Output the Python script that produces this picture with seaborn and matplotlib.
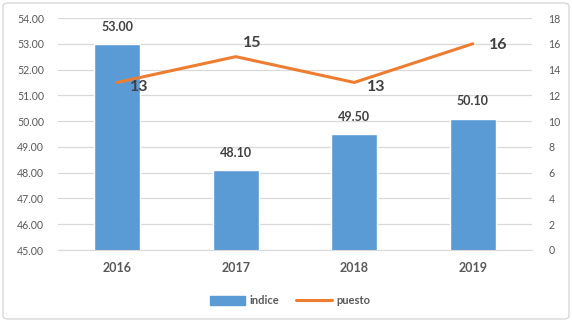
import numpy as np
import pandas as pd
import matplotlib
matplotlib.use('Agg')
import matplotlib.pyplot as plt
import seaborn as sns
from matplotlib.patches import FancyBboxPatch
from matplotlib.lines import Line2D
from matplotlib.patches import Patch

sns.set_style('white')
plt.rcParams['font.family'] = ['Lato', 'DejaVu Sans']

years = ['2016', '2017', '2018', '2019']
indice = [53.00, 48.10, 49.50, 50.10]
puesto = [13, 15, 13, 16]

BLUE = '#5B9BD5'
ORANGE = '#ED7D31'
TXT = '#595959'
LAB = '#404040'

df = pd.DataFrame({'year': years, 'indice': indice, 'puesto': puesto})

fig = plt.figure(figsize=(5.72, 3.22), dpi=100)
ax = fig.add_axes([58 / 572, 1 - 250 / 322, 474 / 572, 232 / 322])

sns.barplot(data=df, x='year', y='indice', color=BLUE, width=0.39,
            saturation=1, ax=ax, zorder=2)
ax.set_ylim(45, 54)
ax.set_yticks(np.arange(45, 54.01, 1))
ax.set_yticklabels([f'{v:.2f}' for v in np.arange(45, 54.01, 1)])
ax.set_xlim(-0.5, 3.5)
ax.grid(axis='y', color='#D9D9D9', linewidth=0.9, zorder=0)
ax.set_axisbelow(True)
ax.set_xlabel('')
ax.set_ylabel('')
for s in ax.spines.values():
    s.set_visible(False)
ax.spines['bottom'].set_visible(True)
ax.spines['bottom'].set_color('#D9D9D9')
ax.tick_params(axis='y', colors=TXT, labelsize=7.6, length=0, pad=10)
ax.tick_params(axis='x', colors=TXT, labelsize=9, length=0, pad=9)
for t in ax.get_xticklabels():
    t.set_fontweight('bold')

for i, v in enumerate(indice):
    ax.annotate(f'{v:.2f}', (i, v), xytext=(0, 8), textcoords='offset points',
                ha='center', va='bottom', fontsize=9, fontweight='bold', color=LAB)

ax2 = ax.twinx()
sns.lineplot(x=np.arange(len(years)), y=puesto, color=ORANGE, linewidth=2.2, ax=ax2)
ax2.set_ylim(0, 18)
ax2.set_yticks(range(0, 19, 2))
ax2.tick_params(axis='y', colors=TXT, labelsize=7.6, length=0, pad=12)
for s in ax2.spines.values():
    s.set_visible(False)
ax2.grid(False)

offsets = [(16, -3), (12, 10), (16, -3), (18, -1)]
for i, (v, off) in enumerate(zip(puesto, offsets)):
    ax2.annotate(str(v), (i, v), xytext=off, textcoords='offset points',
                 ha='center', va='center', fontsize=11.5, fontweight='bold', color=LAB)

handles = [Patch(facecolor=BLUE, edgecolor=BLUE),
           Line2D([0], [0], color=ORANGE, linewidth=2.2)]
fig.legend(handles, ['indice', 'puesto'], loc='center', bbox_to_anchor=(290 / 572, 1 - 301 / 322),
           ncol=2, frameon=False, labelcolor=TXT, handlelength=3.2,
           handleheight=0.8, columnspacing=1.5, handletextpad=0.4,
           prop={'weight': 'bold', 'size': 8})

border = FancyBboxPatch((3 / 572, 3 / 322), 566 / 572, 316 / 322,
                        boxstyle='round,pad=0,rounding_size=0.01',
                        transform=fig.transFigure, fill=False,
                        edgecolor='#D9D9D9', linewidth=1)
fig.patches.append(border)

fig.savefig('out.png', dpi=100)
